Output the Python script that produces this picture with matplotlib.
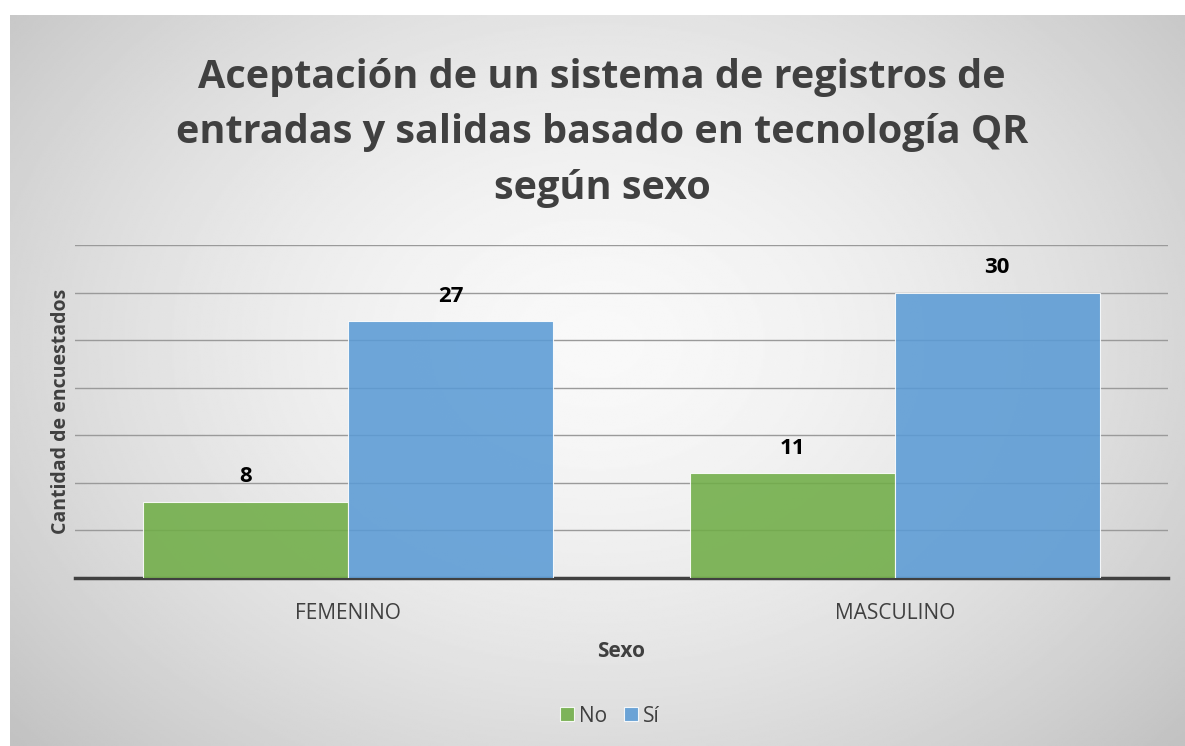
import numpy as np
import matplotlib.pyplot as plt
import matplotlib as mpl

mpl.rcParams['font.family'] = ['Open Sans', 'DejaVu Sans']

categories = ['FEMENINO', 'MASCULINO']
no_vals = [8, 11]
si_vals = [27, 30]
series_labels = ['No', 'Sí']

GREEN = '#70AD47'
BLUE = '#5B9BD5'
TXT = '#404040'

W, H = 1185, 746
fig = plt.figure(figsize=(W / 100, H / 100), dpi=100)
fig.patch.set_facecolor('white')

# radial grey background of the chart area
bg = fig.add_axes([10 / W, 0, 1175 / W, 731 / H])
yy, xx = np.mgrid[0:1:400j, 0:1:600j]
r = np.sqrt(((xx - 0.5) / 0.62) ** 2 + ((yy - 0.45) / 0.75) ** 2)
shade = np.clip(0.975 - 0.19 * r ** 1.6, 0.76, 0.98)
bg.imshow(shade, cmap='gray', vmin=0, vmax=1, aspect='auto', extent=[0, 1, 0, 1], origin='upper')
bg.set_axis_off()

ax = fig.add_axes([75 / W, 168 / H, 1093 / W, 333 / H])
ax.patch.set_alpha(0)
x = np.arange(len(categories))
w = 0.375
b1 = ax.bar(x - w / 2, no_vals, w, color=GREEN, alpha=0.88, edgecolor='white', linewidth=0.8, label=series_labels[0], zorder=3)
b2 = ax.bar(x + w / 2, si_vals, w, color=BLUE, alpha=0.88, edgecolor='white', linewidth=0.8, label=series_labels[1], zorder=3)
for bars in (b1, b2):
    for b in bars:
        h = b.get_height()
        ax.annotate(f'{h:g}', xy=(b.get_x() + b.get_width() / 2, h), xytext=(0, 18),
                    textcoords='offset points', ha='center', va='center',
                    fontsize=16, fontweight='bold', color='black')

ax.set_xlim(-0.5, 1.5)
ax.set_ylim(0, 35)
ax.set_yticks(np.arange(5, 36, 5))
ax.yaxis.grid(True, color='#9a9a9a', linewidth=1, zorder=1)
ax.tick_params(axis='y', length=0, labelleft=False)
ax.tick_params(axis='x', length=0, pad=18, labelsize=15, labelcolor=TXT)
ax.set_xticks(x)
ax.set_xticklabels(categories)
for s in ['top', 'right', 'left']:
    ax.spines[s].set_visible(False)
ax.spines['bottom'].set_color('#404040')
ax.spines['bottom'].set_linewidth(2.5)
ax.set_xlabel('Sexo', fontsize=15, fontweight='bold', color=TXT, labelpad=12)
ax.set_ylabel('Cantidad de encuestados', fontsize=14, fontweight='bold', color=TXT, labelpad=3)

fig.text(602 / W, 1 - 133 / H,
         'Aceptación de un sistema de registros de\nentradas y salidas basado en tecnología QR\nsegún sexo',
         ha='center', va='center', fontsize=28.5, fontweight='bold', color=TXT, linespacing=1.55)

leg = ax.legend(loc='center', bbox_to_anchor=(610 / W, 1 - 716 / H), bbox_transform=fig.transFigure,
                ncol=2, frameon=False, fontsize=15, handlelength=0.65, handleheight=0.65,
                handletextpad=0.25, columnspacing=0.8)
for t in leg.get_texts():
    t.set_color(TXT)

fig.savefig('out.png', dpi=100)
